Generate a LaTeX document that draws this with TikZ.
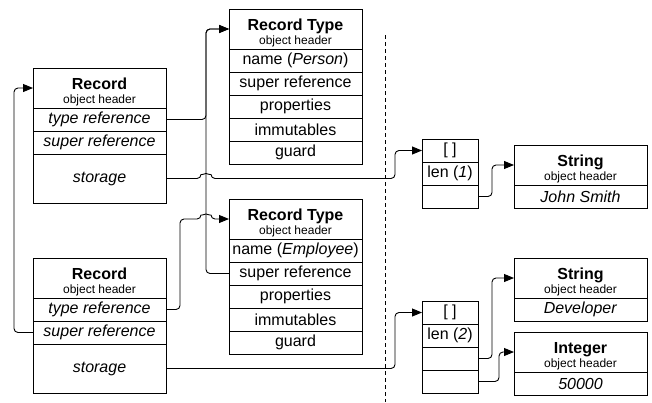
\documentclass[tikz,border=0pt]{standalone}
\usepackage{fontspec}
\setmainfont{Liberation Sans}
\usetikzlibrary{arrows.meta}
\newcommand{\hdrtitle}[1]{{\fontsize{16}{13.5}\selectfont\bfseries\rule{0pt}{19pt}#1}}
\newcommand{\hdrsub}{{\fontsize{12}{13.5}\selectfont object header}}
\tikzset{
    cell/.style={draw=black, line width=0.9pt, anchor=north, inner sep=0pt,
                 outer sep=0pt, minimum height=23pt,
                 font=\fontsize{16}{13.5}\selectfont},
    wide/.style={cell, minimum width=133pt},
    narrow/.style={cell, minimum width=56pt},
    header/.style={minimum height=40pt, align=center},
    storebox/.style={minimum height=49pt},
    ref/.style={draw=black, line width=0.9pt, rounded corners=4pt,
                -{Triangle[length=10pt,width=8pt]}},
    divider/.style={draw=black, line width=0.9pt, dash pattern=on 4pt off 3pt}
}
\begin{document}
\begin{tikzpicture}[x=1pt, y=-1pt]
 \useasboundingbox (0,0) rectangle (652,402);
 %Record (Person)
     \node[wide, header] (rec1hd) at (99.5,68) {\hdrtitle{Record}\\[1pt]\hdrsub};
     \node[wide] (rec1type) at (rec1hd.south) {\textit{type reference}};
     \node[wide] (rec1super) at (rec1type.south) {\textit{super reference}};
     \node[wide, storebox] (rec1stor) at (rec1super.south) {\textit{storage}};
 %Record (Employee)
     \node[wide, header] (rec2hd) at (99.5,258) {\hdrtitle{Record}\\[1pt]\hdrsub};
     \node[wide] (rec2type) at (rec2hd.south) {\textit{type reference}};
     \node[wide] (rec2super) at (rec2type.south) {\textit{super reference}};
     \node[wide, storebox] (rec2stor) at (rec2super.south) {\textit{storage}};
 %Record Type Person
     \node[wide, header] (rt1hd) at (295.5,9) {\hdrtitle{Record Type}\\[1pt]\hdrsub};
     \node[wide] (rt1name) at (rt1hd.south) {name (\textit{Person})};
     \node[wide] (rt1super) at (rt1name.south) {super reference};
     \node[wide] (rt1props) at (rt1super.south) {properties};
     \node[wide] (rt1imm) at (rt1props.south) {immutables};
     \node[wide] (rt1guard) at (rt1imm.south) {guard};
 %Record Type Employee
     \node[wide, header] (rt2hd) at (295.5,199) {\hdrtitle{Record Type}\\[1pt]\hdrsub};
     \node[wide] (rt2name) at (rt2hd.south) {name (\textit{Employee})};
     \node[wide] (rt2super) at (rt2name.south) {super reference};
     \node[wide] (rt2props) at (rt2super.south) {properties};
     \node[wide] (rt2imm) at (rt2props.south) {immutables};
     \node[wide] (rt2guard) at (rt2imm.south) {guard};
 %Storage arrays
     \node[narrow] (arr1top) at (450,139) {[\ ]};
     \node[narrow] (arr1len) at (arr1top.south) {len (\textit{1})};
     \node[narrow] (arr1slot) at (arr1len.south) {};
     \node[narrow] (arr2top) at (450,301) {[\ ]};
     \node[narrow] (arr2len) at (arr2top.south) {len (\textit{2})};
     \node[narrow] (arr2slota) at (arr2len.south) {};
     \node[narrow] (arr2slotb) at (arr2slota.south) {};
 %Values
     \node[wide, header] (str1hd) at (580.5,145) {\hdrtitle{String}\\[1pt]\hdrsub};
     \node[wide] (str1val) at (str1hd.south) {\textit{John Smith}};
     \node[wide, header] (str2hd) at (580.5,258) {\hdrtitle{String}\\[1pt]\hdrsub};
     \node[wide] (str2val) at (str2hd.south) {\textit{Developer}};
     \node[wide, header] (inthd) at (580.5,332) {\hdrtitle{Integer}\\[1pt]\hdrsub};
     \node[wide] (intval) at (inthd.south) {\textit{50000}};
 % bend columns
     \coordinate (busL) at (14,0);
     \coordinate (busC) at (180,0);
     \coordinate (busA) at (206,0);
     \coordinate (busB) at (395,0);
     \coordinate (busD) at (492,0);
     \coordinate (busE) at (499,0);
 % heap / stack divider
     \draw[divider] (385,35) -- (385,402);
 %type and super references
     \draw[ref] (rec1type.east) -- (busA |- rec1type.east) |- (rt1hd.west);
     \draw[ref] (rt2super.west) -- (busA |- rt2super.west) |- (rt1hd.west);
     \draw[ref] (rec2type.east) -- (busC |- rec2type.east)
         |- ([xshift=-5pt]busA |- rt2hd.west) arc[start angle=180, end angle=0, radius=5pt]
         -- (rt2hd.west);
     \draw[ref] (rec2super.west) -- (busL |- rec2super.west) |- (rec1hd.west);
 %storage
     \draw[ref] (rec1stor.east) -- ([xshift=-5pt]busA |- rec1stor.east)
         arc[start angle=180, end angle=0, radius=5pt]
         -- (busB |- rec1stor.east) |- (arr1top.west);
     \draw[ref] (rec2stor.east) -- (busB |- rec2stor.east) |- (arr2top.west);
 %array slots
     \draw[ref] (arr1slot.east) -- (busD |- arr1slot.east) |- (str1hd.west);
     \draw[ref] (arr2slota.east) -- (busD |- arr2slota.east) |- (str2hd.west);
     \draw[ref] (arr2slotb.east) -- (busE |- arr2slotb.east) |- (inthd.west);
\end{tikzpicture}
\end{document}
